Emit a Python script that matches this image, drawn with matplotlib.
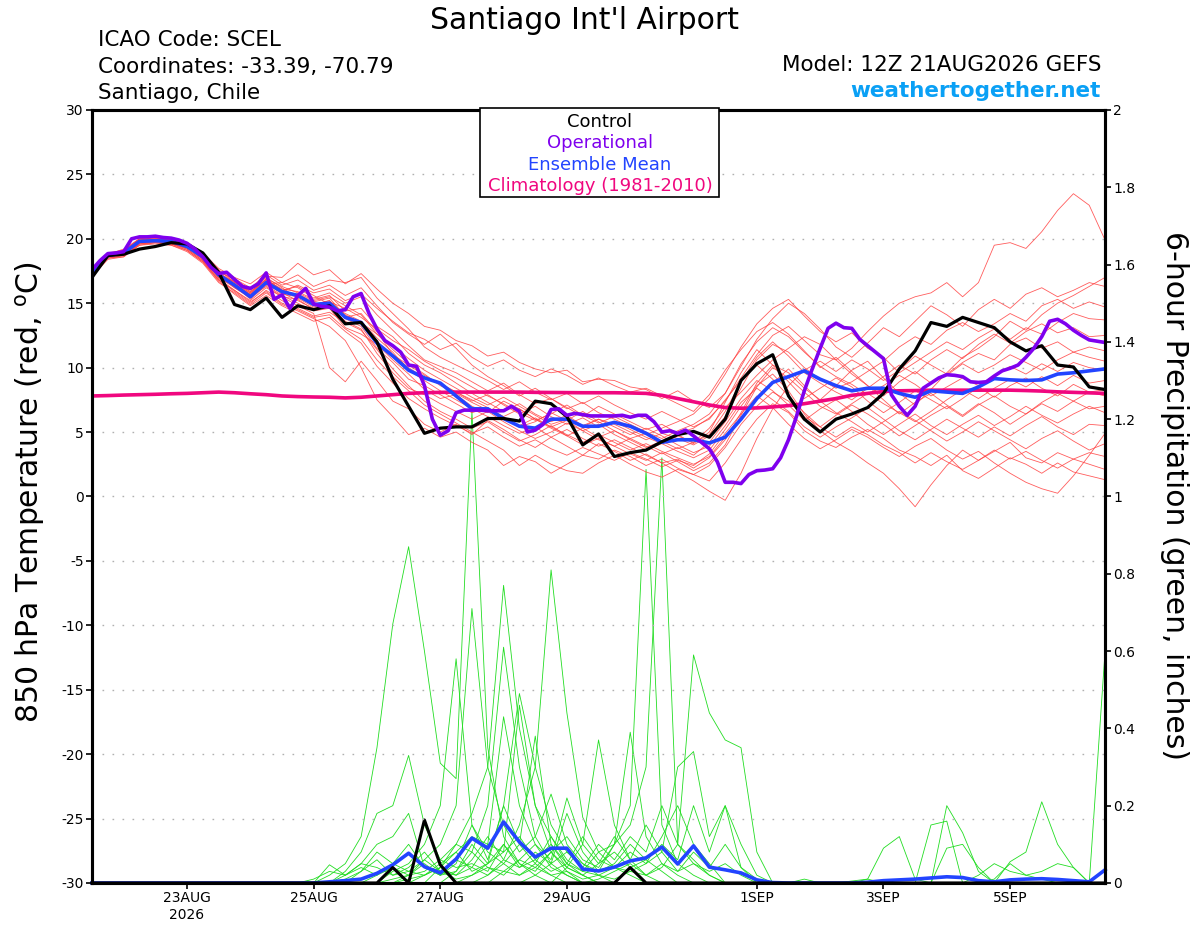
import numpy as np
import pandas as pd
import matplotlib
matplotlib.use("Agg")
from matplotlib import pyplot as plt
from matplotlib.patches import Rectangle
from matplotlib.ticker import FuncFormatter

plt.rcParams['font.family'] = ['DejaVu Sans']
plt.rcParams['axes.unicode_minus'] = False

# time axis: GEFS 6-hourly, operational 3-hourly
times = pd.date_range("2026-08-21 12:00", "2026-09-06 12:00", freq="6h")
times_op = pd.date_range("2026-08-21 12:00", "2026-09-06 12:00", freq="3h")

tick_dates = ["2026-08-23", "2026-08-25", "2026-08-27", "2026-08-29",
              "2026-09-01", "2026-09-03", "2026-09-05"]
tick_labels = ["23AUG\n2026", "25AUG", "27AUG", "29AUG", "1SEP", "3SEP", "5SEP"]

# 850 hPa temperature (C)
control_t = [17.0, 18.7, 18.8, 19.2, 19.4, 19.7, 19.6, 18.9, 17.4,
             14.9, 14.5, 15.4, 13.9, 14.8, 14.5, 14.8, 13.4,
             13.5, 12.0, 9.1, 7.0, 4.9, 5.3, 5.4, 5.4,
             6.05, 6.05, 5.85, 7.4, 7.2, 6.2, 4.0, 4.85,
             3.1, 3.4, 3.6, 4.25, 4.8, 5.05, 4.6, 6.0,
             9.0, 10.3, 11.0, 7.8, 6.0, 5.0, 6.0, 6.4,
             6.9, 8.0, 9.9, 11.3, 13.5, 13.2, 13.9, 13.5,
             13.1, 12.0, 11.3, 11.7, 10.2, 10.05, 8.5, 8.3]

mean_t = [17.4, 18.7, 18.9, 19.8, 19.85, 19.8, 19.4, 18.6, 17.2,
          16.4, 15.5, 16.6, 15.9, 15.6, 14.9, 15.0, 13.9,
          13.5, 11.9, 10.9, 9.8, 9.2, 8.8, 7.8, 6.8,
          6.8, 6.05, 5.45, 5.3, 6.0, 6.0, 5.45, 5.45,
          5.75, 5.45, 4.9, 4.2, 4.4, 4.4, 4.15, 4.6,
          6.0, 7.6, 8.85, 9.3, 9.75, 9.1, 8.6, 8.2,
          8.4, 8.4, 8.0, 7.7, 8.2, 8.1, 8.0, 8.5,
          9.15, 9.05, 9.0, 9.05, 9.5, 9.6, 9.75, 9.9]

clim_t = [7.8, 7.83, 7.87, 7.9, 7.93, 7.97, 8.0, 8.05, 8.1,
          8.05, 7.97, 7.9, 7.8, 7.75, 7.72, 7.7, 7.65,
          7.7, 7.8, 7.9, 8.0, 8.05, 8.08, 8.1, 8.1,
          8.1, 8.1, 8.1, 8.08, 8.07, 8.06, 8.05, 8.05,
          8.05, 8.03, 8.0, 7.85, 7.6, 7.35, 7.1, 6.9,
          6.85, 6.87, 6.95, 7.05, 7.2, 7.4, 7.6, 7.85,
          8.0, 8.15, 8.2, 8.22, 8.25, 8.25, 8.25, 8.25,
          8.25, 8.25, 8.22, 8.18, 8.12, 8.08, 8.04, 8.0]

oper_t = [17.6, 18.3, 18.85, 18.9, 19.0, 20.0, 20.15, 20.15, 20.2, 20.1, 20.05, 19.9, 19.65,
          19.2, 18.6, 17.8, 17.3, 17.4, 16.85, 16.3, 16.15, 16.5, 17.35, 15.3, 15.65, 14.6,
          15.6, 16.15, 14.95, 14.75, 14.7, 14.4, 14.5, 15.5, 15.75, 14.2, 13.0, 12.1, 11.7,
          11.2, 10.2, 10.1, 8.6, 6.0, 4.75, 5.1, 6.5, 6.7, 6.7, 6.7, 6.65, 6.65,
          6.65, 7.0, 6.6, 5.0, 5.15, 5.6, 6.75, 6.8, 6.3, 6.45, 6.35, 6.25, 6.25,
          6.25, 6.25, 6.3, 6.15, 6.3, 6.3, 5.8, 5.0, 5.1, 4.9, 5.15, 4.7, 4.2,
          3.7, 2.7, 1.1, 1.1, 1.0, 1.7, 2.0, 2.05, 2.15, 3.0, 4.4, 6.2, 8.2,
          9.9, 11.5, 13.05, 13.45, 13.1, 13.05, 12.2, 11.7, 11.2, 10.7, 7.9, 7.0, 6.3,
          7.0, 8.4, 8.8, 9.2, 9.45, 9.4, 9.3, 8.9, 8.85, 8.9, 9.35, 9.75, 9.95,
          10.2, 10.8, 11.5, 12.4, 13.6, 13.75, 13.4, 12.9, 12.5, 12.15, 12.05, 11.95]

# ensemble members, 850 hPa temperature
t_members = [
    [17.6, 18.9, 19.1, 19.9, 20.1, 19.9, 19.5, 18.7, 17.4,
     16.9, 16.2, 17.2, 16.4, 16.8, 16.0, 16.4, 15.6,
     16.2, 14.8, 13.5, 12.6, 11.8, 12.6, 11.5, 10.2,
     9.3, 8.6, 7.8, 8.4, 7.6, 6.9, 6.2, 7.0,
     6.4, 5.8, 5.2, 5.6, 4.9, 5.3, 6.1, 7.4,
     9.2, 11.0, 12.5, 13.2, 12.1, 11.0, 10.6, 11.5,
     12.8, 14.0, 15.0, 15.5, 15.8, 16.6, 15.5, 16.6,
     19.5, 19.7, 19.25, 20.55, 22.2, 23.5, 22.6, 19.9],
    [17.2, 18.5, 18.7, 19.6, 19.7, 19.6, 19.2, 18.3, 16.9,
     16.0, 15.2, 16.2, 15.5, 14.8, 14.2, 10.0, 8.9,
     10.5, 9.0, 7.4, 6.8, 5.6, 5.0, 5.6, 4.8,
     5.9, 5.2, 4.4, 3.8, 4.6, 3.9, 3.2, 4.1,
     3.5, 2.8, 3.3, 2.6, 2.9, 2.2, 3.0, 4.4,
     6.5, 8.8, 10.2, 9.6, 8.4, 7.5, 8.6, 9.8,
     10.5, 9.2, 8.0, 7.1, 8.3, 9.6, 10.8, 11.5,
     12.4, 13.6, 12.9, 14.1, 15.0, 15.6, 16.3, 17.0],
    [17.5, 18.8, 19.0, 20.0, 20.2, 19.8, 19.4, 18.5, 17.1,
     16.7, 16.0, 17.1, 17.0, 18.1, 17.2, 17.6, 16.5,
     17.3, 16.1, 15.0, 14.2, 13.2, 12.9, 12.1, 11.7,
     10.9, 11.2, 10.4, 9.9, 9.6, 9.8, 8.9, 9.1,
     9.0, 8.5, 8.3, 7.6, 8.2, 7.4, 6.9, 8.0,
     10.1, 12.2, 13.8, 15.0, 14.2, 13.0, 11.6, 10.8,
     11.9, 13.1, 12.4, 13.6, 14.8, 14.1, 13.2, 14.5,
     15.3, 14.6, 15.7, 16.2, 15.5, 16.0, 16.6, 16.3],
    [17.3, 18.6, 18.9, 19.7, 19.8, 19.7, 19.3, 18.6, 17.3,
     16.2, 15.4, 16.5, 15.8, 15.2, 14.6, 14.9, 13.8,
     13.2, 11.5, 10.4, 9.1, 8.6, 7.9, 7.2, 6.5,
     6.9, 6.1, 5.4, 5.8, 6.5, 5.9, 5.1, 5.6,
     4.8, 4.2, 3.6, 4.1, 3.5, 3.0, 3.6, 5.2,
     7.0, 8.6, 9.5, 8.2, 6.4, 5.1, 4.2, 3.5,
     2.6, 1.8, 0.6, -0.8, 0.9, 2.4, 3.6, 2.8,
     3.5, 4.2, 3.0, 2.6, 3.4, 2.9, 2.5, 2.1],
    [17.4, 18.7, 18.8, 19.8, 19.9, 19.9, 19.6, 18.8, 17.6,
     16.6, 15.9, 16.8, 16.1, 15.9, 15.3, 15.6, 14.4,
     14.6, 13.2, 12.4, 11.1, 10.2, 9.6, 8.8, 8.0,
     7.3, 6.6, 7.2, 6.4, 5.8, 6.3, 5.5, 6.0,
     5.6, 5.0, 4.4, 4.9, 4.5, 4.0, 4.7, 6.2,
     8.4, 10.6, 11.8, 11.2, 10.0, 9.1, 8.4, 8.9,
     9.7, 10.5, 11.6, 12.4, 11.8, 12.9, 13.5, 12.8,
     13.4, 14.2, 13.6, 14.8, 15.3, 14.6, 15.1, 14.7],
    [17.1, 18.4, 18.6, 19.5, 19.6, 19.5, 19.0, 18.1, 16.6,
     15.8, 14.9, 15.8, 14.9, 14.4, 13.8, 13.2, 12.1,
     10.0, 7.5, 6.2, 4.8, 5.3, 4.6, 5.0, 4.2,
     3.6, 2.4, 3.1, 2.7, 1.8, 2.5, 3.2, 2.9,
     3.6, 3.1, 2.4, 2.9, 2.2, 1.7, 1.2, 2.6,
     4.4, 6.0, 7.2, 6.5, 5.1, 4.3, 3.8, 4.6,
     5.2, 4.5, 3.6, 3.1, 2.4, 3.2, 2.0, 1.4,
     2.2, 3.0, 2.5, 1.8, 2.6, 1.9, 1.6, 1.3],
    [17.5, 18.8, 19.2, 20.0, 20.1, 20.0, 19.6, 18.9, 17.7,
     17.0, 16.5, 17.4, 16.6, 16.2, 15.4, 15.8, 15.0,
     15.5, 14.1, 12.9, 11.7, 10.6, 10.1, 9.6, 8.9,
     8.2, 8.8, 7.9, 7.2, 7.6, 6.8, 7.3, 6.5,
     6.0, 5.4, 4.8, 5.3, 5.8, 6.4, 7.6, 9.5,
     11.6, 13.4, 14.6, 15.3, 14.0, 12.8, 12.0, 12.7,
     11.5, 10.8, 9.6, 10.4, 11.2, 12.0, 11.4, 12.3,
     13.0, 12.2, 13.1, 12.6, 13.5, 14.2, 13.8, 13.7],
    [17.3, 18.6, 18.8, 19.7, 19.8, 19.6, 19.3, 18.4, 17.0,
     16.3, 15.6, 16.6, 15.7, 15.5, 14.9, 15.2, 13.9,
     14.2, 12.8, 11.0, 10.2, 9.4, 8.7, 8.1, 7.4,
     7.9, 7.1, 6.4, 7.0, 6.2, 5.6, 6.1, 5.4,
     5.8, 5.2, 4.6, 4.1, 4.7, 4.2, 4.8, 6.6,
     8.9, 10.8, 12.0, 10.9, 9.6, 8.8, 8.1, 7.5,
     8.4, 9.3, 10.2, 9.5, 10.6, 11.4, 10.7, 11.8,
     12.6, 11.9, 12.8, 13.4, 12.7, 13.1, 12.4, 12.5],
    [17.6, 18.9, 19.0, 19.9, 20.0, 19.8, 19.5, 18.6, 17.2,
     16.5, 15.7, 16.9, 16.0, 16.3, 15.6, 14.9, 14.2,
     13.6, 12.3, 11.2, 9.8, 9.0, 8.2, 7.5, 6.8,
     6.2, 5.5, 4.9, 5.4, 4.6, 5.2, 4.5, 3.9,
     4.4, 3.8, 3.2, 2.6, 1.9, 1.2, 0.4, -0.3,
     1.8, 4.5, 6.8, 8.6, 9.8, 10.5, 9.7, 10.6,
     9.9, 9.0, 9.8, 10.9, 10.2, 9.5, 10.4, 11.1,
     10.6, 11.8, 12.3, 11.5, 12.0, 11.2, 11.6, 11.3],
    [17.4, 18.7, 19.0, 19.8, 19.9, 19.7, 19.4, 18.7, 17.3,
     16.4, 15.3, 16.4, 15.6, 15.0, 14.4, 14.6, 13.1,
     12.6, 11.8, 10.6, 9.5, 8.3, 7.6, 7.9, 7.0,
     6.5, 7.4, 6.8, 6.0, 5.4, 5.9, 6.6, 5.8,
     5.1, 4.5, 4.9, 4.3, 3.7, 4.2, 5.3, 6.9,
     8.1, 9.4, 10.6, 11.5, 12.4, 11.8, 10.6, 9.5,
     8.6, 7.8, 8.9, 9.7, 8.8, 9.4, 10.3, 9.6,
     10.2, 11.0, 10.4, 9.8, 10.6, 11.2, 10.8, 10.5],
    [17.5, 18.8, 18.9, 19.8, 20.0, 19.9, 19.5, 18.8, 17.5,
     16.8, 16.1, 17.0, 16.2, 15.4, 14.7, 15.1, 14.6,
     13.9, 13.0, 12.1, 11.4, 10.5, 9.8, 9.2, 8.5,
     7.8, 7.2, 6.5, 5.9, 6.4, 7.1, 6.3, 5.7,
     6.2, 5.6, 5.0, 4.5, 5.1, 5.6, 6.4, 8.0,
     10.3, 12.0, 13.1, 12.4, 11.2, 10.1, 9.3, 8.7,
     7.9, 8.6, 9.4, 8.7, 7.8, 8.5, 9.2, 8.6,
     9.4, 10.1, 9.5, 10.3, 9.7, 10.4, 10.0, 9.8],
    [17.2, 18.5, 18.6, 19.6, 19.7, 19.5, 19.1, 18.2, 16.8,
     15.9, 15.0, 16.0, 15.2, 14.6, 14.0, 14.3, 13.5,
     12.9, 11.4, 9.9, 8.6, 7.4, 6.6, 6.0, 5.3,
     5.8, 5.0, 4.3, 4.8, 5.5, 4.7, 4.0, 4.5,
     3.9, 3.3, 2.8, 3.4, 2.7, 2.0, 2.6, 4.0,
     6.3, 8.5, 10.0, 9.2, 8.1, 7.0, 6.4, 7.2,
     8.0, 7.2, 6.5, 5.8, 6.6, 7.5, 8.3, 7.6,
     8.4, 9.1, 8.5, 9.3, 8.6, 9.4, 8.8, 9.0],
    [17.6, 18.8, 19.1, 20.0, 20.2, 20.0, 19.5, 18.6, 17.3,
     16.6, 15.8, 16.7, 15.9, 15.7, 15.1, 15.4, 14.0,
     13.4, 12.0, 11.0, 10.0, 9.2, 8.8, 8.1, 7.5,
     6.9, 6.2, 6.8, 6.0, 5.3, 4.7, 5.3, 4.6,
     5.1, 4.4, 3.8, 4.3, 4.8, 4.1, 5.0, 7.3,
     9.6, 11.4, 10.2, 8.9, 7.6, 8.4, 9.2, 8.5,
     7.4, 6.5, 7.3, 8.2, 7.5, 6.8, 7.6, 8.5,
     7.7, 8.6, 9.2, 8.4, 7.8, 8.7, 8.1, 8.3],
    [17.2, 18.6, 18.8, 19.6, 19.8, 19.7, 19.2, 18.3, 16.8,
     16.0, 15.1, 15.9, 15.0, 14.5, 13.9, 14.1, 13.0,
     12.2, 10.6, 9.3, 8.2, 7.1, 6.4, 5.7, 5.0,
     4.3, 3.6, 2.4, 3.2, 2.5, 2.0, 1.8, 2.6,
     3.2, 2.5, 1.9, 1.5, 2.1, 1.7, 2.4, 3.8,
     5.6, 7.0, 8.1, 7.4, 6.2, 5.4, 6.3, 7.1,
     6.4, 5.6, 4.7, 5.5, 6.3, 7.0, 6.2, 7.1,
     7.8, 7.0, 6.4, 7.3, 8.0, 7.4, 8.1, 7.8],
    [17.5, 18.7, 19.0, 19.9, 20.1, 19.8, 19.4, 18.6, 17.2,
     16.4, 15.7, 16.6, 15.9, 16.4, 15.8, 16.1, 15.2,
     15.7, 14.6, 13.6, 12.7, 12.2, 11.4, 11.9, 10.8,
     10.1, 10.6, 9.8, 9.3, 9.9, 9.4, 8.7, 9.2,
     8.6, 8.1, 8.4, 7.8, 7.2, 6.6, 7.9, 9.8,
     11.4, 12.8, 13.5, 12.6, 11.3, 10.0, 10.8, 9.7,
     8.6, 7.5, 6.4, 7.3, 8.0, 7.1, 6.3, 7.2,
     6.5, 5.6, 6.4, 7.2, 6.6, 7.4, 6.8, 7.0],
    [17.3, 18.7, 18.9, 19.7, 19.9, 19.8, 19.4, 18.5, 17.0,
     16.2, 15.5, 16.3, 15.5, 15.3, 14.5, 14.7, 13.6,
     13.0, 11.1, 9.6, 8.4, 7.9, 7.2, 6.6, 6.0,
     6.6, 5.8, 5.1, 4.5, 5.0, 5.7, 5.1, 4.4,
     3.9, 4.5, 3.9, 3.3, 3.8, 3.2, 4.2, 5.8,
     7.6, 9.0, 8.2, 7.1, 5.9, 6.8, 7.5, 6.6,
     5.6, 4.8, 5.6, 6.4, 5.5, 4.8, 5.6, 6.3,
     5.5, 6.2, 7.0, 6.3, 5.7, 6.4, 7.0, 6.5],
    [17.4, 18.6, 18.8, 19.8, 19.9, 19.8, 19.5, 18.7, 17.4,
     16.5, 15.8, 16.9, 16.3, 15.8, 15.2, 15.5, 14.8,
     14.1, 12.6, 11.7, 10.7, 9.8, 9.1, 8.4, 7.7,
     7.1, 7.7, 7.0, 6.3, 5.6, 6.0, 5.4, 6.0,
     5.4, 4.8, 5.3, 4.7, 4.0, 3.4, 3.9, 5.5,
     7.3, 8.4, 7.5, 6.6, 5.4, 4.6, 5.4, 6.1,
     6.9, 6.0, 5.1, 4.4, 5.2, 6.0, 5.3, 4.6,
     5.4, 4.7, 5.5, 6.2, 5.4, 4.8, 5.6, 5.5],
    [17.1, 18.5, 18.7, 19.5, 19.7, 19.6, 19.1, 18.2, 16.7,
     15.7, 14.8, 15.6, 14.8, 14.2, 13.6, 13.9, 12.8,
     11.9, 10.1, 8.8, 7.6, 6.8, 6.1, 5.5, 4.9,
     5.4, 4.6, 3.9, 4.4, 3.7, 3.2, 3.8, 3.3,
     2.8, 3.4, 2.9, 2.3, 2.8, 2.4, 3.3, 4.9,
     6.4, 7.8, 6.9, 5.6, 4.5, 3.7, 4.4, 5.2,
     4.6, 3.8, 3.1, 3.9, 4.5, 3.6, 2.9, 3.5,
     2.6, 1.8, 1.1, 0.6, 0.25, 1.6, 3.2, 4.9],
    [17.6, 18.9, 19.0, 19.9, 20.0, 19.9, 19.5, 18.6, 17.3,
     16.7, 15.9, 16.8, 16.0, 15.6, 14.9, 15.2, 14.1,
     13.5, 12.6, 11.4, 10.3, 9.5, 8.6, 8.0, 7.3,
     6.7, 6.0, 5.5, 6.1, 5.4, 4.8, 4.2, 4.8,
     4.2, 3.6, 4.1, 3.5, 3.0, 2.5, 3.1, 4.6,
     6.0, 7.6, 8.8, 9.9, 8.6, 7.4, 6.5, 5.8,
     5.0, 5.8, 6.6, 5.9, 5.1, 4.3, 5.0, 5.8,
     5.1, 4.4, 3.7, 4.5, 5.1, 4.3, 3.6, 4.1],
    [17.3, 18.6, 18.8, 19.7, 19.8, 19.6, 19.3, 18.4, 17.0,
     16.4, 15.6, 16.5, 16.6, 17.2, 16.3, 16.8, 16.6,
     17.0, 15.4, 14.2, 13.0, 11.6, 10.8, 10.2, 9.6,
     9.0, 8.3, 8.9, 8.1, 7.5, 8.0, 7.2, 7.8,
     7.1, 6.5, 6.0, 6.6, 6.0, 5.4, 6.0, 7.5,
     9.0, 10.2, 9.1, 7.8, 6.5, 5.4, 4.6, 5.4,
     4.8, 4.0, 3.4, 2.6, 3.4, 2.7, 2.1, 2.8,
     3.6, 2.9, 3.5, 2.8, 2.2, 2.9, 3.4, 3.1],
]

# 6-hour precipitation (inches)
control_p = [0, 0, 0, 0, 0, 0, 0, 0, 0, 0, 0, 0, 0,
             0, 0, 0, 0, 0, 0, 0.04, 0, 0.163, 0.047, 0, 0, 0,
             0, 0, 0, 0, 0, 0, 0, 0, 0.04, 0, 0, 0, 0,
             0, 0, 0, 0, 0, 0, 0, 0, 0, 0, 0, 0, 0,
             0, 0, 0, 0, 0, 0, 0, 0, 0, 0, 0, 0, 0]

mean_p = [0, 0, 0, 0, 0, 0, 0, 0, 0, 0, 0, 0, 0,
          0, 0, 0.003, 0.006, 0.01, 0.025, 0.047, 0.077, 0.042, 0.026, 0.062, 0.116, 0.09,
          0.158, 0.106, 0.067, 0.09, 0.09, 0.036, 0.031, 0.041, 0.057, 0.065, 0.093, 0.049, 0.096,
          0.041, 0.034, 0.026, 0.008, 0.001, 0, 0, 0, 0, 0, 0.002, 0.006, 0.008,
          0.01, 0.013, 0.016, 0.014, 0.006, 0.003, 0.008, 0.01, 0.011, 0.009, 0.006, 0.003, 0.034]

p_members = [
    [0, 0, 0, 0, 0, 0, 0, 0, 0, 0, 0, 0, 0,
     0, 0, 0.02, 0.05, 0.12, 0.35, 0.67, 0.87, 0.6, 0.31, 0.27, 1.22, 0.35,
     0.12, 0.05, 0.02, 0, 0, 0, 0, 0, 0, 0, 0, 0, 0,
     0, 0, 0, 0, 0, 0, 0, 0, 0, 0, 0, 0, 0,
     0, 0, 0, 0, 0, 0, 0, 0, 0, 0, 0, 0, 0],
    [0, 0, 0, 0, 0, 0, 0, 0, 0, 0, 0, 0, 0,
     0, 0, 0, 0.03, 0.08, 0.18, 0.2, 0.33, 0.15, 0.06, 0.1, 0.08, 0.2,
     0.61, 0.3, 0.12, 0.05, 0.02, 0, 0, 0, 0, 0, 0, 0, 0,
     0, 0, 0, 0, 0, 0, 0, 0, 0, 0, 0, 0, 0,
     0, 0, 0, 0, 0, 0, 0, 0, 0, 0, 0, 0, 0],
    [0, 0, 0, 0, 0, 0, 0, 0, 0, 0, 0, 0, 0,
     0, 0, 0.047, 0.02, 0.05, 0.1, 0.12, 0.18, 0.04, 0.02, 0.06, 0.04, 0.1,
     0.08, 0.46, 0.2, 0.08, 0.03, 0, 0, 0, 0, 0, 0, 0, 0,
     0, 0, 0, 0, 0, 0, 0, 0, 0, 0, 0.01, 0.09, 0.12,
     0.01, 0, 0, 0, 0, 0, 0, 0, 0, 0, 0, 0, 0],
    [0, 0, 0, 0, 0, 0, 0, 0, 0, 0, 0, 0, 0,
     0, 0, 0, 0, 0, 0, 0.03, 0.05, 0.1, 0.2, 0.58, 0.15, 0.06,
     0.2, 0.1, 0.38, 0.1, 0.04, 0.02, 0, 0, 0, 0, 0, 0, 0,
     0, 0, 0, 0, 0, 0, 0, 0, 0, 0, 0, 0, 0,
     0, 0, 0, 0, 0, 0, 0, 0, 0, 0, 0, 0, 0],
    [0, 0, 0, 0, 0, 0, 0, 0, 0, 0, 0, 0, 0,
     0, 0, 0, 0, 0, 0, 0, 0.02, 0.06, 0.1, 0.2, 0.71, 0.3,
     0.15, 0.08, 0.12, 0.23, 0.1, 0.05, 0.02, 0, 0, 0, 0, 0, 0,
     0, 0, 0, 0, 0, 0, 0, 0, 0, 0, 0, 0, 0,
     0, 0.15, 0.16, 0, 0, 0, 0, 0, 0, 0, 0, 0, 0],
    [0, 0, 0, 0, 0, 0, 0, 0, 0, 0, 0, 0, 0,
     0, 0, 0, 0, 0, 0, 0, 0, 0, 0.04, 0.1, 0.18, 0.3,
     0.77, 0.4, 0.2, 0.12, 0.05, 0.02, 0, 0, 0, 0, 0, 0, 0,
     0, 0, 0, 0, 0, 0, 0, 0, 0, 0, 0, 0, 0,
     0, 0, 0, 0, 0, 0, 0, 0, 0, 0, 0, 0, 0],
    [0, 0, 0, 0, 0, 0, 0, 0, 0, 0, 0, 0, 0,
     0, 0, 0, 0, 0, 0, 0, 0, 0.02, 0.05, 0.08, 0.12, 0.1,
     0.43, 0.2, 0.1, 0.06, 0.22, 0.1, 0.37, 0.15, 0.06, 0.02, 0, 0, 0,
     0, 0, 0, 0, 0, 0, 0, 0, 0, 0, 0, 0, 0,
     0, 0, 0, 0, 0, 0, 0, 0, 0, 0, 0, 0, 0],
    [0, 0, 0, 0, 0, 0, 0, 0, 0, 0, 0, 0, 0,
     0, 0, 0, 0, 0, 0, 0, 0, 0, 0, 0.03, 0.1, 0.05,
     0.2, 0.49, 0.3, 0.15, 0.08, 0.05, 0.03, 0.1, 0.39, 0.12, 0.05, 0.02, 0,
     0, 0, 0, 0, 0, 0, 0, 0, 0, 0, 0, 0, 0,
     0, 0, 0, 0, 0, 0, 0, 0, 0, 0, 0, 0, 0],
    [0, 0, 0, 0, 0, 0, 0, 0, 0, 0, 0, 0, 0,
     0, 0, 0, 0, 0, 0, 0, 0, 0, 0, 0, 0, 0.02,
     0.06, 0.15, 0.3, 0.81, 0.44, 0.17, 0.08, 0.04, 0.02, 0, 0, 0, 0,
     0, 0, 0, 0, 0, 0, 0, 0, 0, 0, 0, 0, 0,
     0, 0, 0, 0, 0, 0, 0, 0, 0, 0, 0, 0, 0],
    [0, 0, 0, 0, 0, 0, 0, 0, 0, 0, 0, 0, 0,
     0, 0, 0, 0, 0, 0, 0, 0, 0, 0, 0, 0.02, 0.05,
     0.08, 0.12, 0.06, 0.1, 0.05, 0.03, 0.08, 0.1, 0.2, 1.07, 0.15, 0.05, 0.02,
     0, 0, 0, 0, 0, 0, 0, 0, 0, 0, 0, 0, 0,
     0, 0, 0, 0, 0, 0, 0, 0, 0, 0, 0, 0, 0],
    [0, 0, 0, 0, 0, 0, 0, 0, 0, 0, 0, 0, 0,
     0, 0, 0, 0, 0, 0, 0, 0, 0, 0, 0, 0, 0,
     0.03, 0.06, 0.04, 0.08, 0.12, 0.06, 0.04, 0.1, 0.15, 0.3, 1.1, 0.1, 0.05,
     0.02, 0, 0, 0, 0, 0, 0, 0, 0, 0, 0, 0, 0,
     0, 0, 0, 0, 0, 0, 0, 0, 0, 0, 0, 0, 0],
    [0, 0, 0, 0, 0, 0, 0, 0, 0, 0, 0, 0, 0,
     0, 0, 0, 0, 0, 0, 0, 0, 0, 0, 0, 0, 0,
     0, 0, 0.02, 0.05, 0.08, 0.04, 0.1, 0.06, 0.12, 0.08, 0.2, 0.1, 0.59,
     0.44, 0.37, 0.35, 0.08, 0, 0, 0, 0, 0, 0, 0, 0, 0,
     0, 0, 0, 0, 0, 0, 0, 0, 0, 0, 0, 0, 0],
    [0, 0, 0, 0, 0, 0, 0, 0, 0, 0, 0, 0, 0,
     0, 0, 0, 0, 0, 0, 0, 0, 0, 0, 0, 0, 0,
     0, 0, 0, 0, 0.04, 0.1, 0.05, 0.12, 0.06, 0.15, 0.08, 0.3, 0.34,
     0.12, 0.2, 0.1, 0.02, 0, 0, 0, 0, 0, 0, 0, 0, 0,
     0, 0, 0, 0, 0, 0, 0, 0, 0, 0, 0, 0, 0],
    [0, 0, 0, 0, 0, 0, 0, 0, 0, 0, 0, 0, 0,
     0, 0, 0, 0, 0.03, 0.08, 0.05, 0.1, 0.04, 0.02, 0.05, 0.15, 0.08,
     0.05, 0.1, 0.05, 0.02, 0, 0, 0, 0, 0, 0, 0, 0, 0,
     0, 0, 0, 0, 0, 0, 0, 0, 0, 0, 0, 0, 0,
     0, 0, 0, 0, 0, 0, 0.055, 0.08, 0.21, 0.1, 0.04, 0, 0],
    [0, 0, 0, 0, 0, 0, 0, 0, 0, 0, 0, 0, 0,
     0, 0, 0, 0.02, 0.05, 0.04, 0.02, 0.03, 0.06, 0.03, 0.02, 0.06, 0.12,
     0.06, 0.04, 0.08, 0.05, 0.18, 0.08, 0.03, 0.05, 0.1, 0.06, 0.03, 0, 0,
     0, 0, 0, 0, 0, 0, 0, 0, 0, 0, 0, 0, 0,
     0, 0, 0, 0, 0, 0, 0, 0, 0, 0, 0, 0, 0.6],
    [0, 0, 0, 0, 0, 0, 0, 0, 0, 0, 0, 0, 0,
     0, 0.01, 0.03, 0.02, 0.04, 0.02, 0.05, 0.03, 0.02, 0.04, 0.08, 0.03, 0.05,
     0.1, 0.04, 0.06, 0.03, 0.05, 0.12, 0.06, 0.04, 0.08, 0.05, 0.12, 0.2, 0.1,
     0.05, 0, 0, 0, 0, 0, 0, 0, 0, 0, 0, 0, 0,
     0, 0, 0.09, 0.1, 0.04, 0, 0, 0, 0, 0, 0, 0, 0],
    [0, 0, 0, 0, 0, 0, 0, 0, 0, 0, 0, 0, 0,
     0, 0, 0, 0, 0, 0.02, 0.04, 0.02, 0.03, 0.06, 0.04, 0.05, 0.03,
     0.1, 0.05, 0.03, 0.08, 0.04, 0.02, 0.05, 0.08, 0.04, 0.06, 0.1, 0.06, 0.2,
     0.08, 0.2, 0.04, 0, 0, 0, 0, 0, 0, 0, 0, 0, 0,
     0, 0, 0.2, 0.13, 0.03, 0, 0, 0, 0, 0, 0, 0, 0],
    [0, 0, 0, 0, 0, 0, 0, 0, 0, 0, 0, 0, 0,
     0, 0, 0, 0, 0, 0, 0, 0.01, 0.02, 0.04, 0.02, 0.04, 0.02,
     0.05, 0.02, 0.04, 0.02, 0.03, 0.01, 0.02, 0.04, 0.03, 0.05, 0.08, 0.03, 0.05,
     0.03, 0.05, 0.02, 0, 0, 0, 0, 0, 0, 0, 0, 0, 0,
     0, 0, 0, 0, 0, 0.01, 0.05, 0.02, 0.03, 0.05, 0.04, 0, 0],
    [0, 0, 0, 0, 0, 0, 0, 0, 0, 0, 0, 0, 0,
     0, 0, 0, 0.01, 0.03, 0.06, 0.02, 0.04, 0.08, 0.03, 0.01, 0.02, 0.04,
     0.02, 0.06, 0.1, 0.04, 0.02, 0, 0.01, 0.03, 0.05, 0.02, 0.04, 0.1, 0.06,
     0.02, 0, 0, 0, 0, 0, 0.01, 0, 0, 0.005, 0.01, 0, 0,
     0, 0, 0, 0, 0, 0, 0, 0, 0, 0, 0, 0, 0],
    [0, 0, 0, 0, 0, 0, 0, 0, 0, 0, 0, 0, 0,
     0, 0, 0, 0, 0, 0, 0.01, 0.02, 0.05, 0.02, 0.03, 0.08, 0.04,
     0.03, 0.02, 0.05, 0.12, 0.06, 0.03, 0.02, 0.01, 0.03, 0.02, 0.05, 0.03, 0.08,
     0.04, 0.1, 0.04, 0.01, 0, 0, 0, 0, 0, 0, 0, 0, 0,
     0, 0, 0, 0, 0.02, 0.05, 0.03, 0.02, 0.01, 0, 0, 0, 0],
]

fig = plt.figure(figsize=(12, 9.27), dpi=100)
ax = fig.add_axes([0.0767, 0.0475, 0.8442, 0.8339])
ax2 = ax.twinx()
ax.set_zorder(ax2.get_zorder() + 1)
ax.patch.set_visible(False)

# precipitation on the right axis (drawn underneath)
for m in p_members:
    ax2.plot(times, m, color='#22dd22', lw=0.6)
ax2.plot(times, mean_p, color='#2244ff', lw=2.6, clip_on=False)
ax2.plot(times, control_p, color='black', lw=2.2, clip_on=False)

# temperatures on the left axis
for m in t_members:
    ax.plot(times, m, color='#ff4040', lw=0.6, alpha=0.85)
ax.plot(times, clim_t, color='#f0077f', lw=2.6)
ax.plot(times, mean_t, color='#2244ff', lw=2.6)
ax.plot(times, control_t, color='black', lw=2.3)
ax.plot(times_op, oper_t, color='#7f00ee', lw=2.6)

ax.set_xlim(times[0], times[-1])
ax.set_ylim(-30, 30)
ax2.set_ylim(0, 2)

ax.set_yticks(range(-30, 31, 5))
ax.grid(axis='y', color='#b0b0b0', linestyle=(0, (1.2, 6)), lw=1.0)
ax2.set_yticks(np.arange(0, 2.01, 0.2))
ax2.yaxis.set_major_formatter(FuncFormatter(lambda v, p: '%g' % round(v, 1)))

ax.set_xticks(pd.to_datetime(tick_dates))
ax.set_xticklabels(tick_labels, linespacing=1.25)

ax.tick_params(axis='y', direction='out', length=4, width=1.2, labelsize=10, pad=2)
ax.tick_params(axis='x', direction='out', length=4, width=1.2, labelsize=10, pad=2)
ax2.tick_params(axis='y', direction='out', length=4, width=1.2, labelsize=10, pad=2)

for a in (ax, ax2):
    for s in a.spines.values():
        s.set_linewidth(2.2)

# header text
fig.text(0.4875, 1 - 29 / 927, "Santiago Int'l Airport", ha='center', va='baseline', fontsize=21.5)
fig.text(98 / 1200, 1 - 46 / 927, "ICAO Code: SCEL", ha='left', va='baseline', fontsize=15.5)
fig.text(98 / 1200, 1 - 73 / 927, "Coordinates: -33.39, -70.79", ha='left', va='baseline', fontsize=15.5)
fig.text(98 / 1200, 1 - 99 / 927, "Santiago, Chile", ha='left', va='baseline', fontsize=15.5)
fig.text(1101 / 1200, 1 - 71 / 927, "Model: 12Z 21AUG2026 GEFS", ha='right', va='baseline', fontsize=15.5)
fig.text(1101 / 1200, 1 - 97 / 927, "weathertogether.net", ha='right', va='baseline',
         fontsize=15.5, fontweight='bold', color='#0aa0f5')

# axis titles
fig.text(0.025, 0.469, "850 hPa Temperature (red, $^{\\mathrm{o}}$C)", rotation=90,
         ha='center', va='center', fontsize=21.5)
fig.text(0.979, 0.466, "6-hour Precipitation (green, inches)", rotation=-90,
         ha='center', va='center', fontsize=21.5)

# legend box
rect = Rectangle((480 / 1200, 1 - 197 / 927), 239 / 1200, 89 / 927, transform=fig.transFigure,
                 facecolor='white', edgecolor='black', lw=1.2, zorder=5)
fig.add_artist(rect)
leg_items = [("Control", 'black', 127), ("Operational", '#7f00ee', 148),
             ("Ensemble Mean", '#2244ff', 170), ("Climatology (1981-2010)", '#f0077f', 191)]
for label, col, ypix in leg_items:
    fig.text(600 / 1200, 1 - ypix / 927, label, color=col, ha='center', va='baseline',
             fontsize=13, zorder=6)

fig.savefig("out.png", dpi=100)
